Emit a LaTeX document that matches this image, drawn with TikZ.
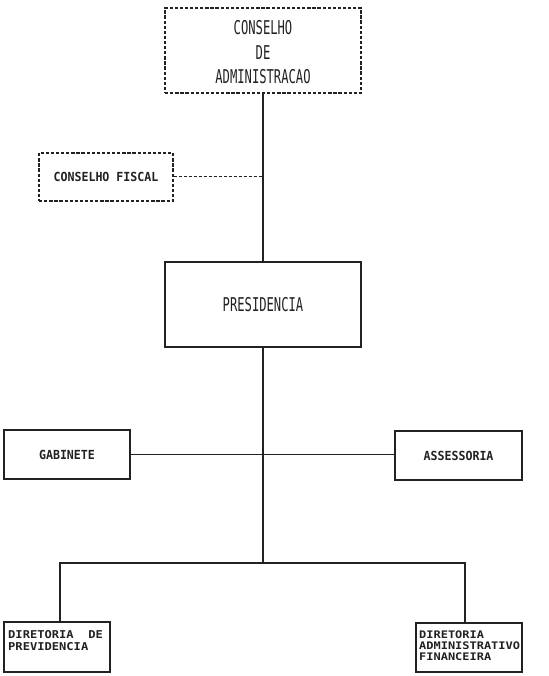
\documentclass[tikz,border=0pt]{standalone}
\usepackage{fontspec}
\newfontfamily\mono{DejaVu Sans Mono}
\begin{document}
\begin{tikzpicture}[x=1pt,y=-1pt,
  box/.style={draw=ink,line width=1.3pt,inner sep=0pt,minimum width=#1},
  dbox/.style={draw=ink,line width=1.3pt,dash pattern=on 3.3pt off 1.8pt,inner sep=0pt},
  conn/.style={draw=ink,line width=1.3pt},
  dconn/.style={draw=ink,line width=1pt,dash pattern=on 3pt off 2pt}]
\definecolor{ink}{HTML}{222222}
\useasboundingbox (0,0) rectangle (548,676);
\fill[white] (0,0) rectangle (548,676);
% nodes
\node[dbox,minimum width=196pt,minimum height=85pt] (ca) at (263,50.5) {};
\node[inner sep=0pt] (cat) at (263,54.5)
  {\scalebox{0.64}[1]{\mono\fontsize{19}{24.5}\selectfont\color{ink}\begin{tabular}{@{}c@{}}CONSELHO\\DE\\ADMINISTRACAO\end{tabular}}};
\node[dbox,minimum width=134pt,minimum height=48pt] (cf) at (106,177)
  {\scalebox{0.93}[1]{\mono\bfseries\fontsize{12.5}{14}\selectfont\color{ink}CONSELHO FISCAL}};
\node[box=196pt,minimum height=85pt] (pr) at (263,304.5)
  {\scalebox{0.64}[1]{\mono\fontsize{19}{24.5}\selectfont\color{ink}PRESIDENCIA}};
\node[box=126pt,minimum height=49pt] (gb) at (67,454.5)
  {\scalebox{0.93}[1]{\mono\bfseries\fontsize{12.5}{14}\selectfont\color{ink}GABINETE}};
\node[box=127pt,minimum height=49pt] (as) at (458.5,455.5)
  {\scalebox{0.93}[1]{\mono\bfseries\fontsize{12.5}{14}\selectfont\color{ink}ASSESSORIA}};
\node[box=106pt,minimum height=50pt] (dp) at (57,647) {};
\node[box=106pt,minimum height=49pt] (da) at (469,647.5) {};
\node[anchor=north west,inner sep=0pt,text=ink] (dpt) at (8,630)
  {\scalebox{1.12}[1]{\mono\bfseries\fontsize{10.8}{11.7}\selectfont\begin{tabular}{@{}l@{}}DIRETORIA\ \ DE\\PREVIDENCIA\end{tabular}}};
\node[anchor=north west,inner sep=0pt,text=ink] (dat) at (419,630.5)
  {\scalebox{1.15}[1]{\mono\bfseries\fontsize{10.4}{10.3}\selectfont\begin{tabular}{@{}l@{}}DIRETORIA\\ADMINISTRATIVO\\FINANCEIRA\end{tabular}}};
% connectors
\coordinate (fj) at (263,177);
\coordinate (bj) at (263,563);
\draw[conn] (ca.south) -- (pr.north);
\draw[dconn] (cf.east) -- (fj);
\draw[conn] (gb.east) -- (gb.east -| as.west);
\draw[conn] (pr.south) -- (bj);
\draw[conn] (bj) -| ([xshift=3pt]dp.north);
\draw[conn] (bj) -| ([xshift=-4pt]da.north);
\end{tikzpicture}
\end{document}
